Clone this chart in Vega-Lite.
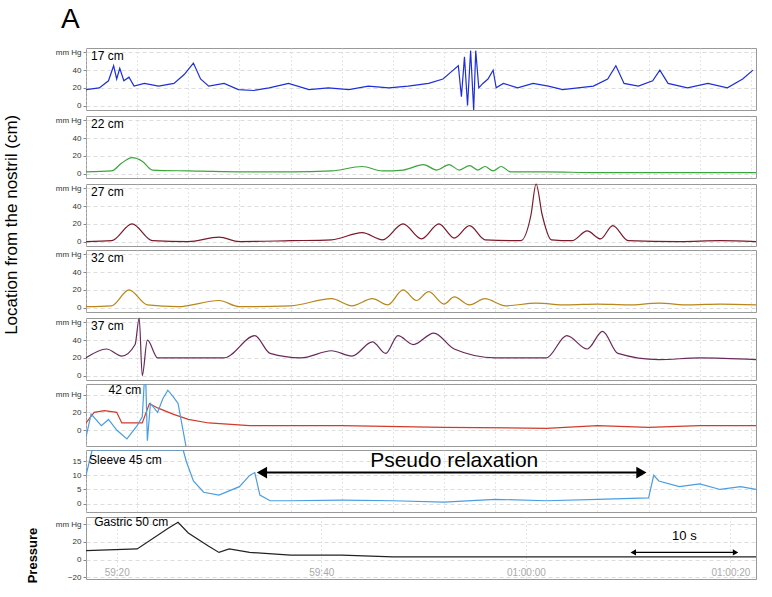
{
  "$schema": "https://vega.github.io/schema/vega-lite/v6.json",
  "background": "white",
  "padding": {"left": 2, "top": 5, "right": 4, "bottom": 2},
  "title": {"text": "A", "anchor": "start", "fontSize": 28, "font": "Liberation Sans", "fontWeight": "normal", "offset": 14, "dx": 58},
  "spacing": 4,
  "config": {
    "font": "Liberation Sans",
    "view": {"stroke": "#999"},
    "concat": {"spacing": 2},
    "axisY": {"grid": true, "gridDash": [4, 3], "gridColor": "#ddd", "labelFontSize": 8, "labelColor": "#333", "labelOverlap": false, "tickSize": 3, "domain": false, "title": null, "minExtent": 44},
    "axisX": {"grid": true, "gridDash": [1, 3], "gridColor": "#ccc", "labels": false, "ticks": false, "domain": false, "title": null},
    "line": {"strokeWidth": 1.2, "interpolate": "monotone"},
    "text": {"font": "Liberation Sans"}
  },
  "hconcat": [
    {
      "width": 18, "height": 520,
      "view": {"stroke": null},
      "data": {"values": [{"label": "Location from the nostril (cm)"}]},
      "mark": {"type": "text", "angle": 270, "fontSize": 17},
      "encoding": {"x": {"datum": 0, "scale": {"domain": [-1, 1]}, "axis": null}, "y": {"datum": 0.66, "scale": {"domain": [0, 1]}, "axis": null}, "text": {"field": "label"}}
    },
    {
  "vconcat": [
    {
      "width": 670, "height": 62,
      "encoding": {"x": {"field": "t", "type": "quantitative", "scale": {"domain": [0, 65.5], "nice": false}},
                   "y": {"field": "p", "type": "quantitative", "scale": {"domain": [-5, 65], "nice": false}, "axis": {"values": [0, 20, 40, 60], "labelExpr": "datum.value == 60 ? 'mm Hg' : datum.label"}}},
      "layer": [
        {"data": {"values": [
        {"t":0,"p":18},{"t":1.3,"p":20},{"t":2.2,"p":28},{"t":2.7,"p":45},{"t":3.0,"p":30},{"t":3.3,"p":42},{"t":3.7,"p":28},{"t":4.2,"p":32},{"t":4.7,"p":22},{"t":5.7,"p":25},{"t":7.1,"p":22},{"t":8.6,"p":25},{"t":9.6,"p":35},{"t":10.5,"p":48},{"t":11.2,"p":30},{"t":12.0,"p":22},{"t":13.5,"p":25},{"t":14.9,"p":18},{"t":16.4,"p":17},{"t":17.9,"p":20},{"t":19.8,"p":25},{"t":21.8,"p":18},{"t":23.7,"p":20},{"t":25.7,"p":18},{"t":27.6,"p":22},{"t":29.6,"p":20},{"t":31.5,"p":22},{"t":33.5,"p":25},{"t":34.9,"p":30},{"t":35.9,"p":40},{"t":36.4,"p":45},{"t":36.7,"p":10},{"t":37.0,"p":55},{"t":37.3,"p":0},{"t":37.6,"p":62},{"t":37.9,"p":-5},{"t":38.1,"p":62},{"t":38.4,"p":20},{"t":38.8,"p":25},{"t":39.3,"p":30},{"t":39.8,"p":40},{"t":40.1,"p":20},{"t":40.8,"p":25},{"t":42.2,"p":20},{"t":43.7,"p":25},{"t":45.2,"p":22},{"t":46.6,"p":18},{"t":48.1,"p":20},{"t":49.6,"p":22},{"t":51.0,"p":30},{"t":51.8,"p":45},{"t":52.6,"p":25},{"t":54.0,"p":22},{"t":55.4,"p":28},{"t":56.1,"p":40},{"t":56.9,"p":25},{"t":58.8,"p":20},{"t":60.8,"p":25},{"t":62.7,"p":20},{"t":64.2,"p":30},{"t":65.2,"p":40}
        ]}, "mark": {"type": "line", "color": "#1f2fd6", "interpolate": "linear"}},
        {"data": {"values": [{"label": "17 cm", "t": 0.5, "p": 56}]}, "mark": {"type": "text", "align": "left", "fontSize": 12}, "encoding": {"text": {"field": "label"}}}
      ]
    },
    {
      "width": 670, "height": 62,
      "encoding": {"x": {"field": "t", "type": "quantitative", "scale": {"domain": [0, 65.5], "nice": false}},
                   "y": {"field": "p", "type": "quantitative", "scale": {"domain": [-5, 65], "nice": false}, "axis": {"values": [0, 20, 40, 60], "labelExpr": "datum.value == 60 ? 'mm Hg' : datum.label"}}},
      "layer": [
        {"data": {"values": [
        {"t":0,"p":2},{"t":2.5,"p":3},{"t":3.5,"p":12},{"t":4.5,"p":18},{"t":5.5,"p":14},{"t":6.5,"p":4},{"t":10,"p":3},{"t":15,"p":2},{"t":20,"p":2},{"t":24,"p":3},{"t":27,"p":8},{"t":29,"p":3},{"t":31,"p":4},{"t":33,"p":10},{"t":34.3,"p":4},{"t":35.5,"p":10},{"t":36.5,"p":4},{"t":37.5,"p":9},{"t":38.3,"p":4},{"t":39,"p":8},{"t":39.8,"p":3},{"t":40.6,"p":8},{"t":41.5,"p":2},{"t":45,"p":2},{"t":50,"p":1},{"t":55,"p":1},{"t":60,"p":1},{"t":65.5,"p":1}
        ]}, "mark": {"type": "line", "color": "#3aa63a"}},
        {"data": {"values": [{"label": "22 cm", "t": 0.5, "p": 56}]}, "mark": {"type": "text", "align": "left", "fontSize": 12}, "encoding": {"text": {"field": "label"}}}
      ]
    },
    {
      "width": 670, "height": 62,
      "encoding": {"x": {"field": "t", "type": "quantitative", "scale": {"domain": [0, 65.5], "nice": false}},
                   "y": {"field": "p", "type": "quantitative", "scale": {"domain": [-5, 65], "nice": false}, "axis": {"values": [0, 20, 40, 60], "labelExpr": "datum.value == 60 ? 'mm Hg' : datum.label"}}},
      "layer": [
        {"data": {"values": [
        {"t":0,"p":0},{"t":2.5,"p":1},{"t":4.5,"p":20},{"t":6.5,"p":1},{"t":10,"p":0},{"t":13,"p":5},{"t":15,"p":0},{"t":20,"p":1},{"t":24,"p":2},{"t":27,"p":10},{"t":29,"p":2},{"t":31,"p":20},{"t":32.8,"p":3},{"t":34.5,"p":20},{"t":36,"p":4},{"t":37.5,"p":18},{"t":39,"p":2},{"t":42.5,"p":1},{"t":43.5,"p":30},{"t":44,"p":65},{"t":44.6,"p":30},{"t":45.5,"p":2},{"t":47.5,"p":1},{"t":49,"p":12},{"t":50.3,"p":3},{"t":51.5,"p":18},{"t":53,"p":1},{"t":58,"p":0},{"t":62,"p":1},{"t":65.5,"p":0}
        ]}, "mark": {"type": "line", "color": "#7a1a2a"}},
        {"data": {"values": [{"label": "27 cm", "t": 0.5, "p": 56}]}, "mark": {"type": "text", "align": "left", "fontSize": 12}, "encoding": {"text": {"field": "label"}}}
      ]
    },
    {
      "width": 670, "height": 62,
      "encoding": {"x": {"field": "t", "type": "quantitative", "scale": {"domain": [0, 65.5], "nice": false}},
                   "y": {"field": "p", "type": "quantitative", "scale": {"domain": [-5, 65], "nice": false}, "axis": {"values": [0, 20, 40, 60], "labelExpr": "datum.value == 60 ? 'mm Hg' : datum.label"}}},
      "layer": [
        {"data": {"values": [
        {"t":0,"p":1},{"t":2.5,"p":2},{"t":4.2,"p":20},{"t":6,"p":3},{"t":9,"p":1},{"t":13,"p":8},{"t":15,"p":1},{"t":20,"p":2},{"t":24,"p":10},{"t":26,"p":2},{"t":28,"p":10},{"t":29.5,"p":3},{"t":31,"p":20},{"t":32.3,"p":8},{"t":33.5,"p":18},{"t":35,"p":4},{"t":36,"p":12},{"t":37.5,"p":3},{"t":39,"p":10},{"t":41,"p":2},{"t":44,"p":5},{"t":47,"p":3},{"t":50,"p":4},{"t":53,"p":3},{"t":56,"p":5},{"t":59,"p":3},{"t":62,"p":4},{"t":65.5,"p":3}
        ]}, "mark": {"type": "line", "color": "#b8861b"}},
        {"data": {"values": [{"label": "32 cm", "t": 0.5, "p": 56}]}, "mark": {"type": "text", "align": "left", "fontSize": 12}, "encoding": {"text": {"field": "label"}}}
      ]
    },
    {
      "width": 670, "height": 62,
      "encoding": {"x": {"field": "t", "type": "quantitative", "scale": {"domain": [0, 65.5], "nice": false}},
                   "y": {"field": "p", "type": "quantitative", "scale": {"domain": [-5, 65], "nice": false}, "axis": {"values": [0, 20, 40, 60], "labelExpr": "datum.value == 60 ? 'mm Hg' : datum.label"}}},
      "layer": [
        {"data": {"values": [
        {"t":0,"p":20},{"t":2,"p":30},{"t":3.5,"p":22},{"t":4.8,"p":35},{"t":5.2,"p":65},{"t":5.5,"p":0},{"t":6,"p":40},{"t":7,"p":20},{"t":9.5,"p":20},{"t":13.5,"p":20},{"t":16.5,"p":45},{"t":18,"p":25},{"t":21,"p":20},{"t":24,"p":28},{"t":26,"p":22},{"t":28,"p":38},{"t":29.3,"p":25},{"t":30.5,"p":45},{"t":32,"p":35},{"t":34,"p":48},{"t":36,"p":30},{"t":40,"p":20},{"t":45,"p":20},{"t":47,"p":45},{"t":49,"p":30},{"t":50.5,"p":50},{"t":52,"p":25},{"t":56,"p":18},{"t":60,"p":20},{"t":65.5,"p":18}
        ]}, "mark": {"type": "line", "color": "#6a2a5a"}},
        {"data": {"values": [{"label": "37 cm", "t": 0.5, "p": 56}]}, "mark": {"type": "text", "align": "left", "fontSize": 12}, "encoding": {"text": {"field": "label"}}}
      ]
    },
    {
      "width": 670, "height": 62,
      "encoding": {"x": {"field": "t", "type": "quantitative", "scale": {"domain": [0, 65.5], "nice": false}},
                   "y": {"field": "p", "type": "quantitative", "scale": {"domain": [-18, 52], "nice": false}, "axis": {"values": [0, 20, 40], "labelExpr": "datum.value == 40 ? 'mm Hg' : datum.label"}}},
      "layer": [
        {"data": {"values": [
        {"s":"red","t":0,"p":8},{"s":"red","t":0.8,"p":20},{"s":"red","t":1.8,"p":22},{"s":"red","t":3,"p":20},{"s":"red","t":3.5,"p":8},{"s":"red","t":5.5,"p":8},{"s":"red","t":6.2,"p":30},{"s":"red","t":7,"p":25},{"s":"red","t":8.5,"p":18},{"s":"red","t":10,"p":12},{"s":"red","t":12,"p":8},{"s":"red","t":16,"p":5},{"s":"red","t":25,"p":5},{"s":"red","t":35,"p":3},{"s":"red","t":45,"p":2},{"s":"red","t":50,"p":5},{"s":"red","t":55,"p":3},{"s":"red","t":60,"p":5},{"s":"red","t":65.5,"p":5},
        {"s":"blue","t":0,"p":-8},{"s":"blue","t":0.5,"p":18},{"s":"blue","t":1.5,"p":5},{"s":"blue","t":2.2,"p":12},{"s":"blue","t":3,"p":0},{"s":"blue","t":4,"p":-10},{"s":"blue","t":5,"p":5},{"s":"blue","t":5.5,"p":15},{"s":"blue","t":5.8,"p":75},{"s":"blue","t":6,"p":-12},{"s":"blue","t":6.3,"p":30},{"s":"blue","t":7,"p":20},{"s":"blue","t":7.5,"p":35},{"s":"blue","t":8,"p":45},{"s":"blue","t":8.5,"p":38},{"s":"blue","t":9,"p":30},{"s":"blue","t":9.8,"p":-20}
        ]}, "mark": {"type": "line", "interpolate": "linear", "clip": true},
         "encoding": {"detail": {"field": "s"},
                      "color": {"field": "s", "type": "nominal", "scale": {"domain": ["red", "blue"], "range": ["#d23a2a", "#4a9de0"]}, "legend": null}}},
        {"data": {"values": [{"label": "42 cm", "t": 2.2, "p": 45}]}, "mark": {"type": "text", "align": "left", "fontSize": 12}, "encoding": {"text": {"field": "label"}}}
      ]
    },
    {
      "width": 670, "height": 62,
      "encoding": {"x": {"field": "t", "type": "quantitative", "scale": {"domain": [0, 65.5], "nice": false}},
                   "y": {"field": "p", "type": "quantitative", "scale": {"domain": [-3, 19], "nice": false}, "axis": {"values": [0, 5, 10, 15]}}},
      "layer": [
        {"data": {"values": [
        {"t":0,"p":10},{"t":0.6,"p":19},{"t":9.5,"p":19},{"t":9.8,"p":15},{"t":10.5,"p":8},{"t":11.5,"p":4},{"t":13,"p":3},{"t":15,"p":6},{"t":16,"p":10},{"t":16.5,"p":11},{"t":17,"p":3},{"t":18,"p":1},{"t":20,"p":1},{"t":25,"p":1.2},{"t":30,"p":1},{"t":35,"p":0.5},{"t":40,"p":1.5},{"t":45,"p":1},{"t":50,"p":1.5},{"t":55,"p":2},{"t":55.5,"p":10},{"t":56,"p":8},{"t":58,"p":6},{"t":60,"p":7},{"t":62,"p":5},{"t":64,"p":6},{"t":65.5,"p":5}
        ]}, "mark": {"type": "line", "color": "#4a9de0", "clip": true, "interpolate": "linear"}},
        {"data": {"values": [{"label": "Sleeve 45 cm", "t": 0.3, "p": 15.5}]}, "mark": {"type": "text", "align": "left", "fontSize": 12}, "encoding": {"text": {"field": "label"}}},
        {"data": {"values": [{"t": 17.2, "t2": 54.3, "p": 11}]}, "mark": {"type": "rule", "color": "black", "strokeWidth": 2}, "encoding": {"x2": {"field": "t2"}}},
        {"data": {"values": [{"t": 17.2, "p": 11}]}, "mark": {"type": "point", "shape": "triangle-left", "filled": true, "color": "black", "size": 140, "opacity": 1}},
        {"data": {"values": [{"t": 54.3, "p": 11}]}, "mark": {"type": "point", "shape": "triangle-right", "filled": true, "color": "black", "size": 140, "opacity": 1}},
        {"data": {"values": [{"label": "Pseudo relaxation", "t": 36, "p": 15}]}, "mark": {"type": "text", "fontSize": 21}, "encoding": {"text": {"field": "label"}}}
      ]
    },
    {
      "width": 670, "height": 62,
      "encoding": {"x": {"field": "t", "type": "quantitative", "scale": {"domain": [0, 65.5], "nice": false},
                         "axis": {"labels": true, "values": [3, 23, 43, 63], "labelExpr": "datum.value == 3 ? '59:20' : datum.value == 23 ? '59:40' : datum.value == 43 ? '01:00:00' : '01:00:20'", "labelColor": "#aaa", "labelFontSize": 10, "labelPadding": -12, "labelFlush": true}},
                   "y": {"field": "p", "type": "quantitative", "scale": {"domain": [-22, 48], "nice": false},
                         "axis": {"values": [-20, 0, 20, 40], "labelExpr": "datum.value == 40 ? 'mm Hg' : datum.label", "title": "Pressure", "titleFontSize": 13, "titleColor": "#000", "titlePadding": 3, "titleY": 38}}},
      "layer": [
        {"data": {"values": [
        {"t":0,"p":10},{"t":5,"p":12},{"t":8,"p":35},{"t":9,"p":42},{"t":10,"p":30},{"t":12,"p":15},{"t":13,"p":8},{"t":14,"p":12},{"t":16,"p":8},{"t":20,"p":5},{"t":25,"p":5},{"t":30,"p":3},{"t":40,"p":3},{"t":50,"p":3},{"t":60,"p":3},{"t":65.5,"p":3}
        ]}, "mark": {"type": "line", "color": "#222", "interpolate": "linear"}},
        {"data": {"values": [{"label": "Gastric 50 cm", "t": 0.8, "p": 42}]}, "mark": {"type": "text", "align": "left", "fontSize": 12}, "encoding": {"text": {"field": "label"}}},
        {"data": {"values": [{"t": 53.5, "t2": 63.5, "p": 8}]}, "mark": {"type": "rule", "color": "black", "strokeWidth": 1.2}, "encoding": {"x2": {"field": "t2"}}},
        {"data": {"values": [{"t": 53.5, "p": 8}]}, "mark": {"type": "point", "shape": "triangle-left", "filled": true, "color": "black", "size": 40, "opacity": 1}},
        {"data": {"values": [{"t": 63.5, "p": 8}]}, "mark": {"type": "point", "shape": "triangle-right", "filled": true, "color": "black", "size": 40, "opacity": 1}},
        {"data": {"values": [{"label": "10 s", "t": 58.5, "p": 26}]}, "mark": {"type": "text", "fontSize": 13}, "encoding": {"text": {"field": "label"}}}
      ]
    }
  ]
    }
  ]
}
